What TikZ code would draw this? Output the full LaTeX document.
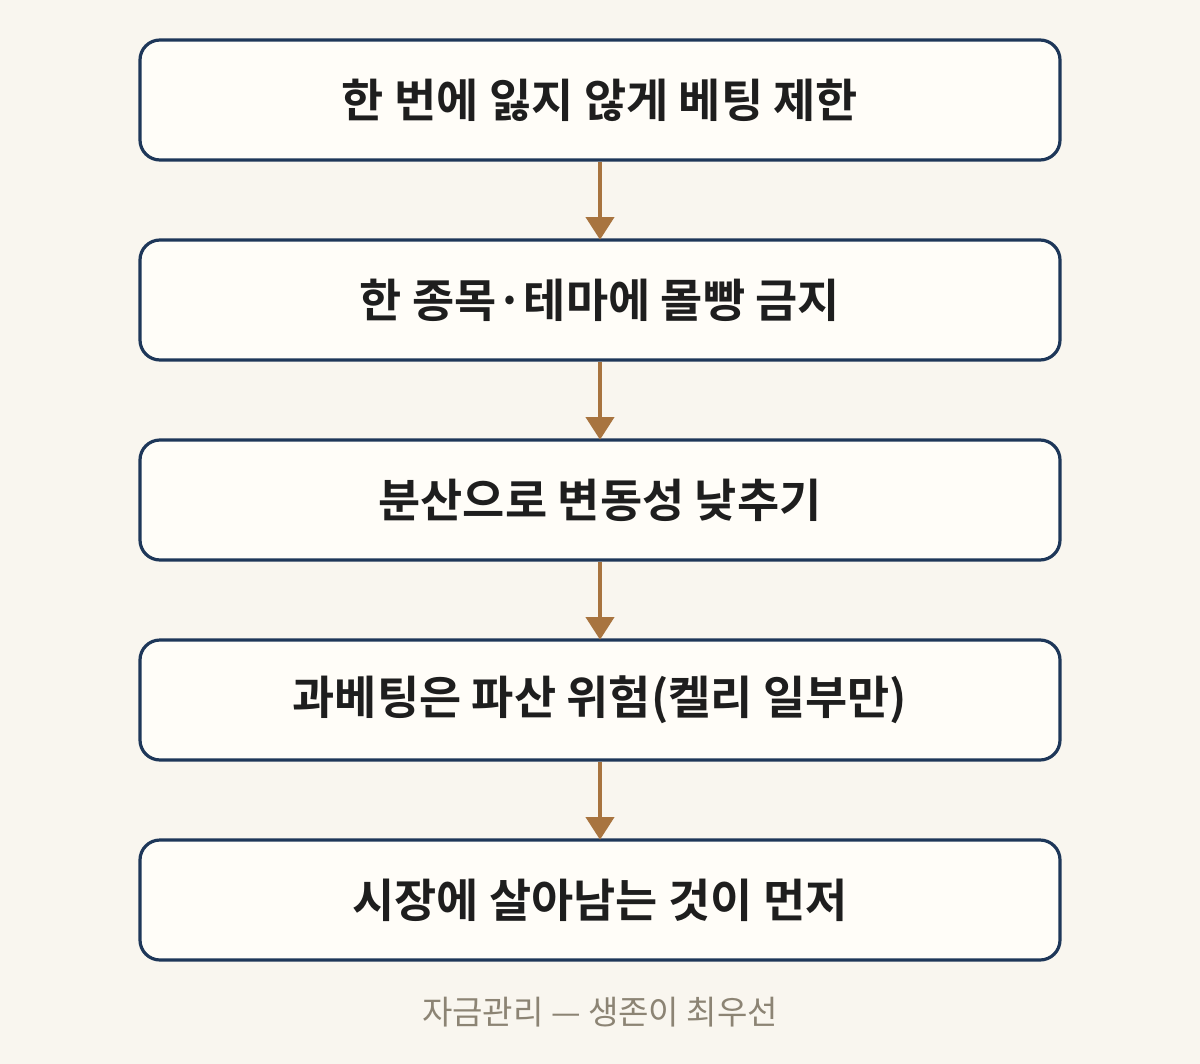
\documentclass[tikz,border=0pt]{standalone}
\usepackage{fontspec}
\newfontfamily\kb{Noto Sans CJK KR Bold}
\newfontfamily\kr{Noto Sans CJK KR}
\usetikzlibrary{arrows.meta}
\definecolor{bg}{HTML}{F9F6EF}
\definecolor{boxfill}{HTML}{FFFDF8}
\definecolor{navy}{HTML}{1E3759}
\definecolor{arr}{HTML}{A8743F}
\definecolor{cap}{HTML}{8C8474}
\definecolor{txt}{HTML}{1E1E1E}
\tikzset{
  stepbox/.style={draw=navy, line width=2.4pt, fill=boxfill, rounded corners=15pt,
    minimum width=690pt, minimum height=90pt, inner sep=0pt,
    font=\kb\fontsize{34.4}{40}\selectfont, text=txt},
  conn/.style={arr, line width=3pt, -{Triangle[width=21pt,length=17pt]}, shorten >=-1pt},
}
\begin{document}
\begin{tikzpicture}[x=0.75pt,y=-0.75pt]
\fill[bg] (0,0) rectangle (1200,1064);
\useasboundingbox (0,0) rectangle (1200,1064);
\node[stepbox] (b1) at (600,100) {한 번에 잃지 않게 베팅 제한};
\node[stepbox] (b2) at (600,300) {한 종목·테마에 몰빵 금지};
\node[stepbox] (b3) at (600,500) {분산으로 변동성 낮추기};
\node[stepbox] (b4) at (600,700) {과베팅은 파산 위험(켈리 일부만)};
\node[stepbox] (b5) at (600,900) {시장에 살아남는 것이 먼저};
\draw[conn] (b1.south) -- (b2.north);
\draw[conn] (b2.south) -- (b3.north);
\draw[conn] (b3.south) -- (b4.north);
\draw[conn] (b4.south) -- (b5.north);
\node[font=\kr\fontsize{24.8}{30}\selectfont, text=cap] (c) at (600,1012) {자금관리 — 생존이 최우선};
\end{tikzpicture}
\end{document}
